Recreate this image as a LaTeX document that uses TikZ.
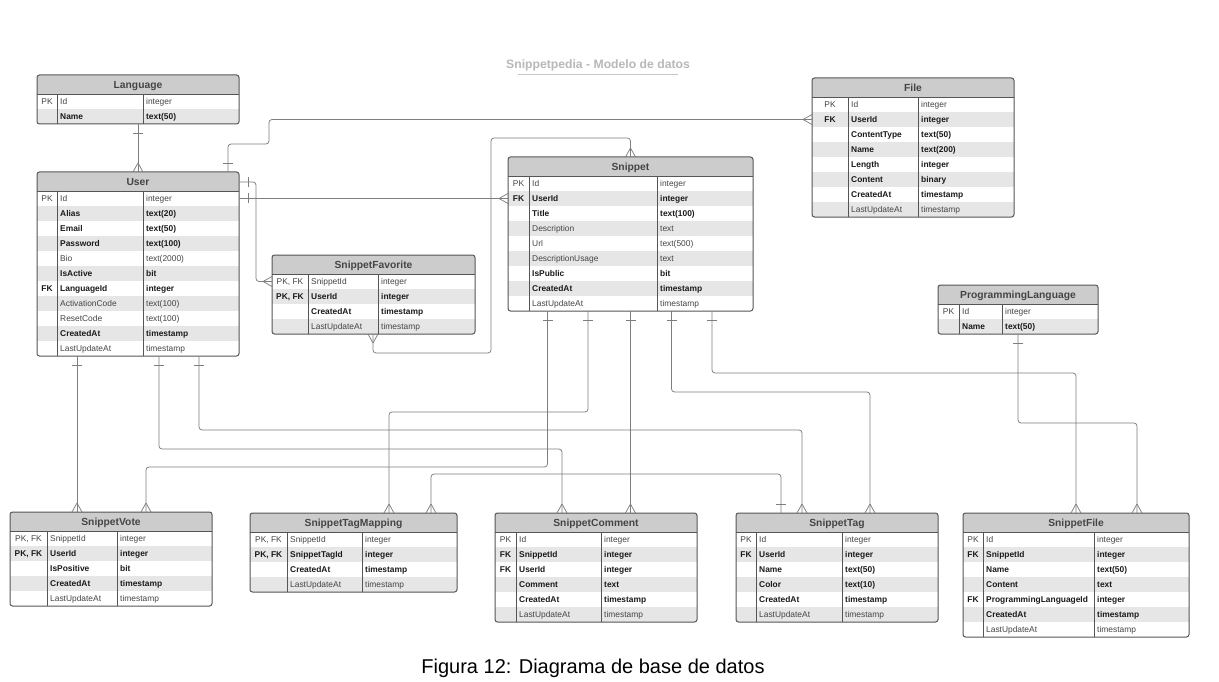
\documentclass[tikz,border=0pt]{standalone}
\usepackage{fontspec}
\setmainfont{Liberation Sans}
\usetikzlibrary{decorations.markings,calc}
\definecolor{hdrfill}{HTML}{CCCCCC}
\definecolor{rowfill}{HTML}{E6E6E6}
\definecolor{framecol}{HTML}{555555}
\definecolor{conncol}{HTML}{7E7E7E}
\definecolor{normtxt}{HTML}{444444}
\definecolor{boldtxt}{HTML}{1A1A1A}
\definecolor{hdrtxt}{HTML}{454545}
\definecolor{titletxt}{HTML}{B8B8B8}
\def\kP{PK}\def\kF{FK}\def\kB{PK, FK}\def\kN{}
\tikzset{
 x=1pt, y=-1pt,
 frame/.style={draw=framecol, line width=1pt},
 innerln/.style={draw=framecol, line width=0.8pt},
 celltxt/.style={inner sep=0pt, font=\fontsize{8.4}{10}\selectfont},
 hdrtxtstyle/.style={inner sep=0pt, font=\fontsize{10.3}{12}\selectfont\bfseries, text=hdrtxt},
 connline/.style={draw=conncol, line width=0.75pt},
 conn/.style={connline, rounded corners=3pt},
 manyend/.style={postaction={decorate, decoration={markings, mark=at position 1 with {\draw[connline] (-9,0) -- (0,5) (-9,0) -- (0,-5);}}}},
 manystart/.style={postaction={decorate, decoration={markings, mark=at position 0 with {\draw[connline] (9,0) -- (0,5) (9,0) -- (0,-5);}}}},
 onestart/.style={postaction={decorate, decoration={markings, mark=at position 9pt with {\draw[connline] (0,-5) -- (0,5);}}}},
}
% #1 id, #2 left, #3 right, #4 col1, #5 col2, #6 top, #7 title, #8 nrows, #9 rows
\newcommand\ertable[9]{%
 \pgfmathsetmacro\tw{#3-#2}%
 \pgfmathsetmacro\tb{#6+19+15*#8}%
 \pgfmathsetmacro\th{19+15*#8}%
 \pgfmathsetmacro\hb{#6+19}%
 \pgfmathsetmacro\kx{(#2+#4)/2}%
 \pgfmathsetmacro\tx{(#2+#3)/2}%
 \node[inner sep=0pt, outer sep=0pt, minimum width=\tw pt, minimum height=\th pt, anchor=north west] (#1) at (#2,#6) {};
 \begin{scope}
  \clip[rounded corners=2.5pt] (#2,#6) rectangle (#3,\tb);
  \fill[hdrfill] (#2,#6) rectangle (#3,\hb);
  \foreach \fk/\fn/\ft/\fb [count=\i from 0] in {#9} {
    \pgfmathsetmacro\ry{\hb+15*\i}
    \ifodd\i \fill[rowfill] (#2,\ry) rectangle (#3,\ry+15);\fi
    \node[celltxt, anchor=base] (#1k\i) at (\kx,\ry+10.2) {\ifnum\fb=1 \bfseries\color{boldtxt}\else\color{normtxt}\fi\csname k\fk\endcsname};
    \node[celltxt, anchor=base west] (#1n\i) at (#4+3,\ry+10.2) {\ifnum\fb=1 \bfseries\color{boldtxt}\else\color{normtxt}\fi\fn};
    \node[celltxt, anchor=base west] (#1t\i) at (#5+3,\ry+10.2) {\ifnum\fb=1 \bfseries\color{boldtxt}\else\color{normtxt}\fi\ft};
  }
 \end{scope}
 \draw[innerln] (#2,\hb) -- (#3,\hb);
 \draw[innerln] (#4,\hb) -- (#4,\tb);
 \draw[innerln] (#5,\hb) -- (#5,\tb);
 \draw[frame, rounded corners=2.5pt] (#1.north west) rectangle (#1.south east);
 \node[hdrtxtstyle, anchor=base] (#1title) at (\tx,#6+13.5) {#7};
}
\begin{document}
\begin{tikzpicture}
\fill[white] (0,0) rectangle (1219,682);
\useasboundingbox (0,0) rectangle (1219,682);

\node[font=\fontsize{12.2}{14}\selectfont\bfseries, text=titletxt, anchor=base, inner sep=0pt] (title) at (598,69) {Snippetpedia - Modelo de datos};
\draw[titletxt!80, line width=0.6pt] (518,74) -- (678,74);

\ertable{language}{37}{239}{57}{143}{75}{Language}{2}{P/Id/integer/0, N/Name/text(50)/1}
\ertable{user}{37}{239}{57}{143}{172}{User}{11}{P/Id/integer/0, N/Alias/text(20)/1, N/Email/text(50)/1, N/Password/text(100)/1, N/Bio/text(2000)/0, N/IsActive/bit/1, F/LanguageId/integer/1, N/ActivationCode/text(100)/0, N/ResetCode/text(100)/0, N/CreatedAt/timestamp/1, N/LastUpdateAt/timestamp/0}
\ertable{sfav}{272}{475}{308}{378}{255}{SnippetFavorite}{4}{B/SnippetId/integer/0, B/UserId/integer/1, N/CreatedAt/timestamp/1, N/LastUpdateAt/timestamp/0}
\ertable{snippet}{508}{753}{529}{657}{157}{Snippet}{9}{P/Id/integer/0, F/UserId/integer/1, N/Title/text(100)/1, N/Description/text/0, N/Url/text(500)/0, N/DescriptionUsage/text/0, N/IsPublic/bit/1, N/CreatedAt/timestamp/1, N/LastUpdateAt/timestamp/0}
\ertable{file}{812}{1014}{848}{918}{78}{File}{8}{P/Id/integer/0, F/UserId/integer/1, N/ContentType/text(50)/1, N/Name/text(200)/1, N/Length/integer/1, N/Content/binary/1, N/CreatedAt/timestamp/1, N/LastUpdateAt/timestamp/0}
\ertable{plang}{938}{1098}{959}{1002}{285}{ProgrammingLanguage}{2}{P/Id/integer/0, N/Name/text(50)/1}
\ertable{svote}{10}{212}{47}{117}{512}{SnippetVote}{5}{B/SnippetId/integer/0, B/UserId/integer/1, N/IsPositive/bit/1, N/CreatedAt/timestamp/1, N/LastUpdateAt/timestamp/0}
\ertable{stm}{250}{457}{287}{362}{513}{SnippetTagMapping}{4}{B/SnippetId/integer/0, B/SnippetTagId/integer/1, N/CreatedAt/timestamp/1, N/LastUpdateAt/timestamp/0}
\ertable{scomment}{495}{697}{516}{601}{513}{SnippetComment}{6}{P/Id/integer/0, F/SnippetId/integer/1, F/UserId/integer/1, N/Comment/text/1, N/CreatedAt/timestamp/1, N/LastUpdateAt/timestamp/0}
\ertable{stag}{736}{938}{756}{842}{513}{SnippetTag}{6}{P/Id/integer/0, F/UserId/integer/1, N/Name/text(50)/1, N/Color/text(10)/1, N/CreatedAt/timestamp/1, N/LastUpdateAt/timestamp/0}
\ertable{sfile}{963}{1189}{983}{1094}{513}{SnippetFile}{7}{P/Id/integer/0, F/SnippetId/integer/1, N/Name/text(50)/1, N/Content/text/1, F/ProgrammingLanguageId/integer/1, N/CreatedAt/timestamp/1, N/LastUpdateAt/timestamp/0}

% connectors
\draw[conn, onestart, manyend] (language.south) -- (user.north);
\draw[conn, onestart, manyend] ([xshift=191pt]user.north west) |- (269,144) |- ([yshift=-41.5pt]file.north west);
\draw[conn, onestart, manyend] ([yshift=-10pt]user.north east) -| (256,281.5) -- ([yshift=-26.5pt]sfav.north west);
\draw[conn, onestart, manyend] ([yshift=-26.5pt]user.north east) -- ([yshift=-41.5pt]snippet.north west);
\draw[conn, manystart, manyend] ([xshift=101pt]sfav.south west) |- (491,353) -- (491,138) -| (snippet.north);

\draw[conn, onestart, manyend] ([xshift=39.5pt]snippet.south west) |- (146,467) -- ([xshift=136pt]svote.north west);
\draw[conn, onestart, manyend] ([xshift=80pt]snippet.south west) |- (389,412) -- ([xshift=139pt]stm.north west);
\draw[conn, onestart, manyend] (snippet.south) -- ([xshift=135.5pt]scomment.north west);
\draw[conn, onestart, manyend] ([xshift=163.5pt]snippet.south west) |- (870,392) -- ([xshift=134pt]stag.north west);
\draw[conn, onestart, manyend] ([xshift=204pt]snippet.south west) |- (1076,373) -- ([xshift=113pt]sfile.north west);

\draw[conn, onestart, manyend] ([xshift=40pt]user.south west) -- ([xshift=67pt]svote.north west);
\draw[conn, onestart, manyend] ([xshift=122pt]user.south west) |- (562,449) -- ([xshift=67pt]scomment.north west);
\draw[conn, onestart, manyend] ([xshift=162pt]user.south west) |- (802,430) -- ([xshift=66pt]stag.north west);

\draw[conn, onestart, manyend] ([xshift=45pt]stag.north west) |- (431,474) -- ([xshift=181pt]stm.north west);
\draw[conn, onestart, manyend] ([xshift=80pt]plang.south west) |- (1137,423) -- ([xshift=174pt]sfile.north west);

\node[font=\fontsize{20}{24}\selectfont, anchor=base, inner sep=0pt] (caption) at (593,673) {Figura 12: Diagrama de base de datos};
\end{tikzpicture}
\end{document}
